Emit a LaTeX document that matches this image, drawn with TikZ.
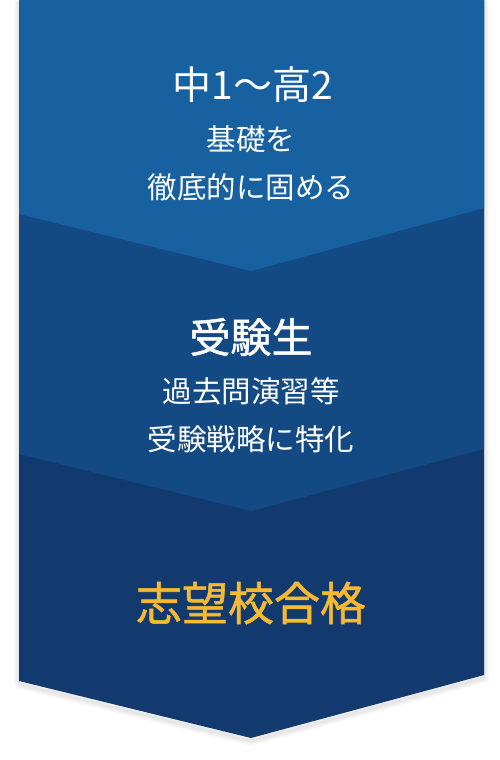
\documentclass[tikz,border=0pt]{standalone}
\usepackage{fontspec}
\newfontfamily\jpfont{Noto Sans CJK JP}
\newfontfamily\jpheavy[FakeBold=1.2]{Noto Sans CJK JP}
\definecolor{stepone}{RGB}{23,97,161}
\definecolor{steptwo}{RGB}{20,74,132}
\definecolor{stepthree}{RGB}{18,58,110}
\definecolor{goalgold}{RGB}{245,185,50}
\begin{document}
\begin{tikzpicture}[x=1pt, y=-1pt,
  every node/.style = {text=white, align=center, inner sep=0pt},
  title/.style = {font=\jpfont\fontsize{39}{44}\selectfont},
  body/.style = {font=\jpfont\fontsize{29.5}{48}\selectfont},
  goal/.style = {font=\jpheavy\fontsize{46}{52}\selectfont, text=goalgold}]
  \useasboundingbox (0,0) rectangle (500,760);
  % soft shadow under the band
  \foreach \w in {2,4,6,8,10}
    \draw[line width=\w pt, black, opacity=0.02, line join=round]
      (19,3) -- (484,3) -- (484,678) -- (251,741) -- (19,684) -- cycle;
  % the three steps, drawn from the bottom up
  \fill[stepthree] (19,0) -- (484,0) -- (484,675) -- (251,738) -- (19,681) -- cycle;
  \fill[steptwo] (19,0) -- (484,0) -- (484,449) -- (251,511) -- (19,454) -- cycle;
  \fill[stepone] (19,0) -- (484,0) -- (484,208) -- (251,271) -- (19,214) -- cycle;
  % texts
  \node[title] (grade) at (253,85) {中1〜高2};
  \node[body] (basics) at (251,163) {基礎を\\徹底的に固める};
  \node[title, font=\jpheavy\fontsize{41}{46}\selectfont] (exam) at (251,337) {受験生};
  \node[body] (practice) at (251,415) {過去問演習等\\受験戦略に特化};
  \node[goal] (pass) at (251,603) {志望校合格};
\end{tikzpicture}
\end{document}
